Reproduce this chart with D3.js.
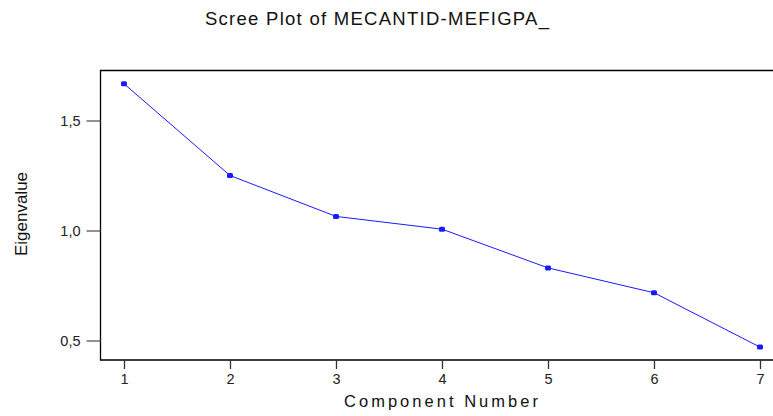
<!DOCTYPE html>
<html>
<head>
<meta charset="utf-8">
<script src="https://cdn.jsdelivr.net/npm/d3@7"></script>
<style>
  html, body { margin: 0; padding: 0; background: #fff; overflow: hidden; }
  text { font-family: "Liberation Sans", Arial, sans-serif; }
</style>
</head>
<body>
<svg id="chart" width="773" height="416"></svg>
<script>
const components = [1, 2, 3, 4, 5, 6, 7];
const eigenvalues = [1.667, 1.25, 1.064, 1.006, 0.830, 0.717, 0.47];
const yTicks = [0.5, 1.0, 1.5];
const titleText = "Scree Plot of MECANTID-MEFIGPA_";
const xLabel = "Component Number";
const yLabel = "Eigenvalue";

const svg = d3.select("#chart");
const frame = { left: 100.5, top: 70.5, right: 773, bottom: 360 };

const x = d3.scaleLinear().domain([1, 7]).range([124, 760]);
const y = d3.scaleLinear().domain([0.5, 1.5]).range([340.5, 120.5]);

// Title
svg.append("text")
  .attr("x", 205).attr("y", 25)
  .attr("font-size", 18.5)
  .attr("textLength", 344)
  .attr("lengthAdjust", "spacing")
  .attr("fill", "#111")
  .text(titleText);

// Frame: top, left, bottom (right edge is outside view)
const framePath = d3.path();
framePath.moveTo(frame.right, frame.top);
framePath.lineTo(frame.left, frame.top);
framePath.lineTo(frame.left, frame.bottom);
framePath.lineTo(frame.right, frame.bottom);
svg.append("path")
  .attr("d", framePath.toString())
  .attr("fill", "none").attr("stroke", "#000").attr("stroke-width", 1.3);

// Y axis
const yAxis = d3.axisLeft(y).tickValues(yTicks).tickSize(14).tickPadding(6)
  .tickFormat(d => d3.format(".1f")(d).replace(".", ","));
const gy = svg.append("g").attr("transform", `translate(${frame.left},0)`).call(yAxis);
gy.select(".domain").remove();
gy.selectAll(".tick line").attr("stroke", "#555").attr("stroke-width", 1.3);
gy.selectAll(".tick text").attr("font-size", 14.5).attr("fill", "#222")
  .attr("font-family", "Liberation Sans, Arial, sans-serif");

// X axis
const xAxis = d3.axisBottom(x).tickValues(components).tickSize(9).tickPadding(5)
  .tickFormat(d3.format("d"));
const gx = svg.append("g").attr("transform", `translate(0,${frame.bottom})`).call(xAxis);
gx.select(".domain").remove();
gx.selectAll(".tick line").attr("stroke", "#333").attr("stroke-width", 1.3);
gx.selectAll(".tick text").attr("font-size", 14.5).attr("fill", "#222")
  .attr("font-family", "Liberation Sans, Arial, sans-serif");

// Axis labels
svg.append("text")
  .attr("x", 344).attr("y", 407)
  .attr("font-size", 16.5)
  .attr("textLength", 194)
  .attr("lengthAdjust", "spacing")
  .attr("fill", "#111")
  .text(xLabel);

svg.append("text")
  .attr("transform", `translate(27,214) rotate(-90)`)
  .attr("text-anchor", "middle")
  .attr("font-size", 17)
  .attr("fill", "#111")
  .text(yLabel);

// Line
const data = components.map((c, i) => ({ c, v: eigenvalues[i] }));
svg.append("path")
  .datum(data)
  .attr("fill", "none")
  .attr("stroke", "#1a1aff")
  .attr("stroke-width", 1)
  .attr("d", d3.line().x(d => x(d.c)).y(d => y(d.v)));

// Markers
svg.selectAll("rect.pt").data(data).enter().append("rect")
  .attr("class", "pt")
  .attr("x", d => x(d.c) - 3).attr("y", d => y(d.v) - 2.5)
  .attr("width", 6).attr("height", 5)
  .attr("rx", 1.5)
  .attr("fill", "#1a1aff");
</script>
</body>
</html>
